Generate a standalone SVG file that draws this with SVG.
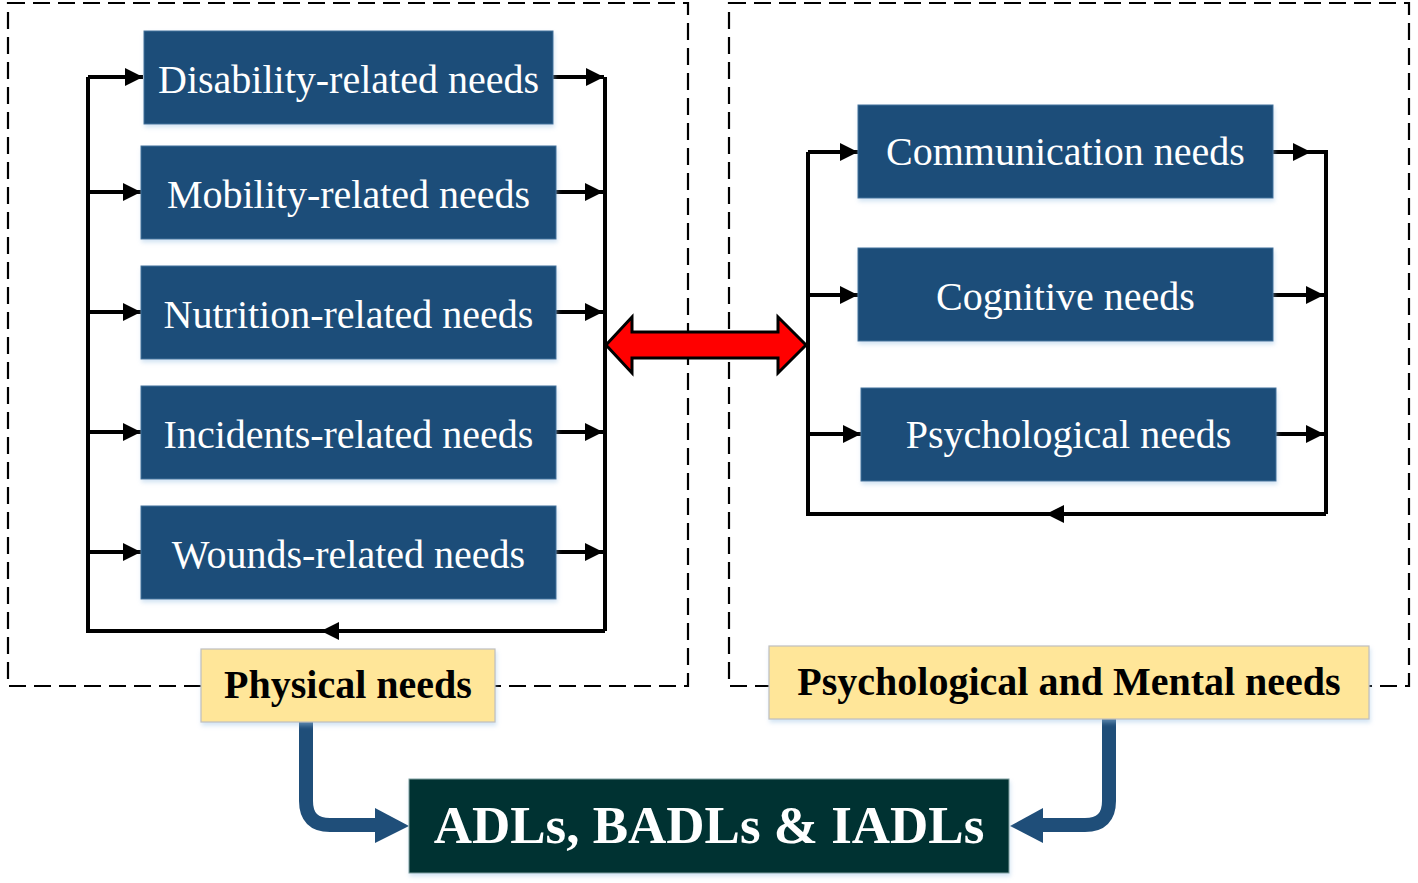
<svg xmlns="http://www.w3.org/2000/svg" width="1418" height="883" viewBox="0 0 1418 883">
<style>
.frame{fill:none;stroke:#000;stroke-width:2.2;stroke-dasharray:17 8}
.need rect{fill:#1F4E79;stroke:#41719C;stroke-width:1;filter:url(#sh)}
.need text{font-family:"Liberation Serif","Times New Roman",serif;font-size:40px;fill:#fff;text-anchor:middle}
.label rect{fill:#FFE699;stroke:#BFBFBF;stroke-width:1.2;filter:url(#sh)}
.label text{font-family:"Liberation Serif","Times New Roman",serif;font-size:40px;font-weight:bold;fill:#000;text-anchor:middle}
.conn{fill:none;stroke:#000;stroke-width:4;stroke-linejoin:miter}
.arr{marker-end:url(#ah)}
.big{fill:none;stroke:#1F4E79;stroke-width:14}
.bighead{fill:#1F4E79}
</style>
<defs>
<filter id="sh" x="-5%" y="-10%" width="110%" height="125%">
<feDropShadow dx="1" dy="3" stdDeviation="2" flood-color="#9DC3E6" flood-opacity="0.45"/>
</filter>
<marker id="ah" markerUnits="userSpaceOnUse" markerWidth="19" markerHeight="19" refX="18" refY="9" orient="auto">
<path d="M0,0 L18,9 L0,18 z" fill="#000"/>
</marker>
</defs>

<g id="frames">
<rect class="frame" x="8" y="3" width="680" height="683"/>
<rect class="frame" x="729" y="3" width="680" height="683"/>
</g>

<g id="connectors">
<path class="conn" d="M605,631 L322,631"/>
<path class="conn" d="M338,631 L321,631" marker-end="url(#ah)"/>
<path class="conn" d="M322,631 L88,631 L88,77"/>
<path class="conn" d="M605,77 L605,631"/>
<path class="conn arr" d="M88,77 L143,77"/>
<path class="conn arr" d="M88,192 L141,192"/>
<path class="conn arr" d="M88,312 L141,312"/>
<path class="conn arr" d="M88,432 L141,432"/>
<path class="conn arr" d="M88,552 L141,552"/>
<path class="conn arr" d="M553,77 L604,77"/>
<path class="conn arr" d="M556,192 L603,192"/>
<path class="conn arr" d="M556,312 L603,312"/>
<path class="conn arr" d="M556,432 L603,432"/>
<path class="conn arr" d="M556,552 L603,552"/>
<path class="conn" d="M1326,514 L808,514 L808,152"/>
<path class="conn" d="M1064,514 L1046,514" marker-end="url(#ah)"/>
<path class="conn" d="M1273,152 L1326,152 L1326,514"/>
<path class="conn arr" d="M1273,152 L1311,152"/>
<path class="conn arr" d="M1273,295 L1324,295"/>
<path class="conn arr" d="M1276,434 L1324,434"/>
<path class="conn arr" d="M808,152 L858,152"/>
<path class="conn arr" d="M808,295 L858,295"/>
<path class="conn arr" d="M808,434 L861,434"/>
<path class="big" d="M306,722 L306,801 Q306,825 330,825 L378,825"/>
<polygon class="bighead" points="375,808 409,826 375,843"/>
<path class="big" d="M1109,719 L1109,801 Q1109,825 1085,825 L1040,825"/>
<polygon class="bighead" points="1043,808 1010,826 1043,843"/>
</g>

<g id="n-disability" class="need"><rect x="144" y="31" width="409" height="93"/><text x="348.5" y="93">Disability-related needs</text></g>
<g id="n-mobility" class="need"><rect x="141" y="146" width="415" height="93"/><text x="348.5" y="208">Mobility-related needs</text></g>
<g id="n-nutrition" class="need"><rect x="141" y="266" width="415" height="93"/><text x="348.5" y="328">Nutrition-related needs</text></g>
<g id="n-incidents" class="need"><rect x="141" y="386" width="415" height="93"/><text x="348.5" y="448">Incidents-related needs</text></g>
<g id="n-wounds" class="need"><rect x="141" y="506" width="415" height="93"/><text x="348.5" y="568">Wounds-related needs</text></g>

<g id="n-communication" class="need"><rect x="858" y="105" width="415" height="93"/><text x="1065.5" y="165">Communication needs</text></g>
<g id="n-cognitive" class="need"><rect x="858" y="248" width="415" height="93"/><text x="1065.5" y="310">Cognitive needs</text></g>
<g id="n-psychological" class="need"><rect x="861" y="388" width="415" height="93"/><text x="1068.5" y="448">Psychological needs</text></g>

<g id="l-physical" class="label"><rect x="201" y="649" width="294" height="73"/><text x="348" y="698">Physical needs</text></g>
<g id="l-psych" class="label"><rect x="769" y="646" width="600" height="73"/><text x="1069" y="695">Psychological and Mental needs</text></g>

<g id="red-arrow">
<polygon points="606,345 632,317 632,332 778,332 778,317 806,345 778,373 778,358 632,358 632,373" fill="#FF0000" stroke="#000" stroke-width="3" stroke-linejoin="miter"/>
</g>

<g id="n-adl">
<rect x="409" y="779" width="600" height="94" fill="#033030" stroke="#7F9F9F" stroke-width="1" filter="url(#sh)"/>
<text x="709" y="843" font-family="'Liberation Serif','Times New Roman',serif" font-size="53" font-weight="bold" fill="#fff" text-anchor="middle">ADLs, BADLs &amp; IADLs</text>
</g>
</svg>
